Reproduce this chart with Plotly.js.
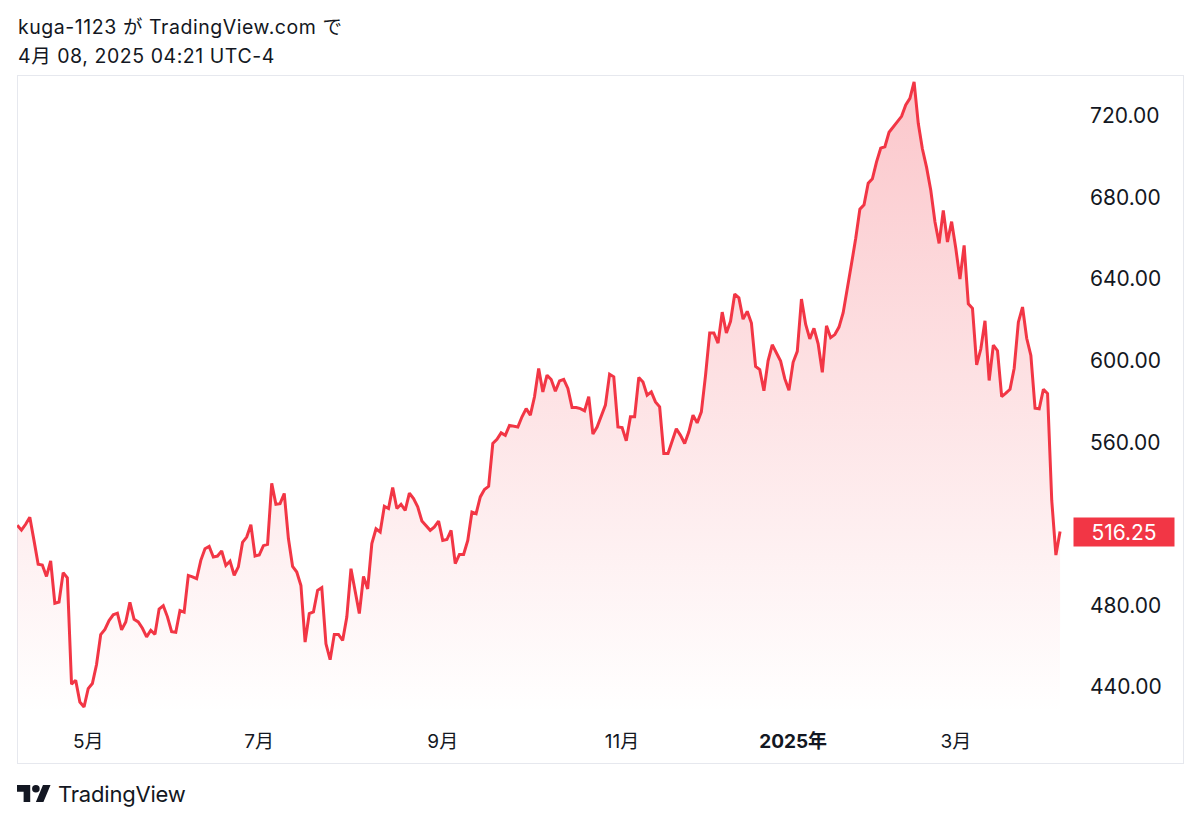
<!DOCTYPE html>
<html>
<head>
<meta charset="utf-8">
<script src="https://cdn.plot.ly/plotly-3.0.1.min.js"></script>
<style>
    body { margin: 0; background: #ffffff; width: 1200px; height: 823px; overflow: hidden; position: relative;
           font-family: Inter, "Noto Sans CJK JP", sans-serif; color: #131722; }
    #header { position: absolute; left: 18px; top: 13px; font-size: 19.5px; line-height: 29px; letter-spacing: 0.55px; }
    #frame { position: absolute; left: 17px; top: 75px; width: 1167px; height: 689px;
             border: 1px solid #e6e8ee; box-sizing: border-box; }
    #chart { position: absolute; left: 17px; top: 75px; width: 1166px; height: 688px; }
    #footer { position: absolute; left: 17px; top: 780px; height: 28px; display: flex; align-items: center; }
    #footer span { font-size: 22px; margin-left: 7px; letter-spacing: -0.2px; }
</style>
</head>
<body>
<div id="header">kuga-1123 が TradingView.com で<br>4月 08, 2025 04:21 UTC-4</div>
<div id="frame"></div>
<div id="chart"></div>
<div id="footer">
    <svg width="34" height="27" viewBox="0 0 36 28"><path fill="#131722" d="M14 22H7V11H0V4h14v18zM28 22h-8l7.5-18h8L28 22z"/><circle fill="#131722" cx="20" cy="8" r="4"/></svg>
    <span>TradingView</span>
</div>
<script>
// Daily closes, one array per month (Apr 2024 - Apr 2025)
const apr2024 = [519.3, 516.9, 519.8, 523.2, 511.9, 500.2, 499.8, 494.2, 501.8, 481.1, 481.7, 496.1, 493.5, 441.4, 443.3, 432.6, 430.2];
const may2024 = [439.2, 441.7, 451.0, 465.7, 468.2, 472.6, 475.4, 476.2, 468.0, 471.9, 481.5, 473.2, 471.9, 468.8, 464.6, 467.8, 465.8, 478.2, 479.9, 474.4, 467.1, 466.8];
const jun2024 = [477.5, 476.7, 494.7, 494.0, 493.1, 502.1, 507.8, 508.9, 503.7, 504.2, 506.7, 499.6, 501.7, 494.8, 498.9, 510.9, 513.5, 519.6, 504.2];
const jul2024 = [504.7, 509.3, 509.9, 539.9, 529.6, 529.9, 534.9, 512.8, 499.1, 496.4, 489.8, 462.0, 476.0, 476.8, 487.4, 488.7, 461.2, 453.4, 465.8, 465.8, 462.8, 474.3];
const aug2024 = [498.0, 487.4, 476.0, 494.2, 488.1, 510.3, 517.6, 516.0, 528.6, 527.5, 537.8, 527.5, 529.6, 526.6, 535.1, 532.4, 528.3, 521.4, 519.3, 516.8, 518.5, 521.4];
const sep2024 = [511.9, 512.3, 516.8, 500.5, 505.0, 505.0, 511.9, 525.8, 525.0, 533.2, 536.8, 538.4, 559.4, 561.4, 564.6, 563.4, 568.3, 567.9, 567.5, 572.5];
const oct2024 = [576.5, 573.3, 582.3, 596.2, 584.7, 592.9, 590.8, 585.0, 590.1, 590.8, 586.4, 577.0, 577.0, 576.5, 575.4, 582.3, 564.0, 567.5, 573.3, 578.2, 593.4, 592.1, 567.5];
const nov2024 = [567.2, 560.7, 572.5, 572.5, 591.8, 589.6, 583.1, 584.7, 579.8, 577.4, 554.5, 554.5, 561.0, 566.6, 563.4, 559.4, 565.1, 573.3, 569.5, 574.9];
const dec2024 = [592.8, 613.6, 613.6, 608.6, 623.8, 613.6, 619.3, 632.7, 630.8, 620.4, 624.2, 618.5, 597.2, 595.6, 585.3, 599.9, 607.8, 603.4, 599.8, 591.2, 585.5];
const jan2025 = [599.2, 604.6, 630.2, 617.9, 610.7, 615.9, 608.3, 594.3, 617.1, 611.3, 612.8, 616.5, 623.5, 636.5, 647.5, 659.9, 674.3, 676.5, 687.0, 689.2];
const feb2025 = [697.5, 704.2, 704.9, 712.0, 714.5, 717.4, 719.8, 725.4, 728.6, 736.7, 716.4, 703.8, 694.8, 683.6, 668.1, 657.5, 673.7, 658.2, 668.2];
const mar2025 = [655.1, 640.0, 656.5, 627.9, 625.7, 598.0, 605.7, 619.6, 590.3, 607.6, 604.9, 582.4, 584.1, 586.0, 596.3, 618.9, 626.3, 611.0, 602.6, 576.7, 576.4];
const apr2025 = [586.0, 583.9, 531.6, 504.7, 516.25];

// x-axis labels, placed at the first bar of these months
const tickMonthIdx = [1, 3, 5, 7, 9, 11];
const tickLabels = ['5月', '7月', '9月', '11月', '<b>2025年</b>', '3月'];

// price scale
const priceTicks = [440, 480, 560, 600, 640, 680, 720];

const months = [apr2024, may2024, jun2024, jul2024, aug2024, sep2024, oct2024,
                nov2024, dec2024, jan2025, feb2025, mar2025, apr2025];
const closes = months.flat();
const bars = closes.map((_, i) => i);

// index of first bar in each month
let monthStart = [];
let acc = 0;
months.forEach(m => { monthStart.push(acc); acc += m.length; });

const last = closes[closes.length - 1];
const red = '#F23645';

const trace = {
    x: bars,
    y: closes,
    type: 'scatter',
    mode: 'lines',
    line: { color: red, width: 3 },
    fill: 'tozeroy',
    fillgradient: {
        type: 'vertical',
        start: 427,
        stop: 737,
        colorscale: [[0, 'rgba(242,54,69,0)'], [1, 'rgba(242,54,69,0.28)']]
    },
    hoverinfo: 'skip'
};

const layout = {
    width: 1166,
    height: 688,
    margin: { l: 0, r: 110, t: 1, b: 50 },
    paper_bgcolor: 'rgba(0,0,0,0)',
    plot_bgcolor: 'rgba(0,0,0,0)',
    showlegend: false,
    font: { family: 'Inter, "Noto Sans CJK JP", sans-serif', color: '#131722' },
    xaxis: {
        range: [-0.07, 253.1],
        showgrid: false,
        zeroline: false,
        showline: false,
        ticks: '',
        tickvals: tickMonthIdx.map(m => monthStart[m]),
        ticktext: tickLabels,
        tickfont: { size: 19, color: '#131722' },
        ticklabelstandoff: 15,
        fixedrange: true
    },
    yaxis: {
        side: 'right',
        range: [427.25, 739.6],
        showgrid: false,
        zeroline: false,
        showline: false,
        ticks: '',
        tickvals: priceTicks,
        ticktext: priceTicks.map(v => v.toFixed(2)),
        tickfont: { size: 21, color: '#131722' },
        ticklabelstandoff: 16,
        fixedrange: true
    },
    annotations: [{
        xref: 'paper', yref: 'y',
        x: 1.0, y: last,
        xanchor: 'left', yanchor: 'middle',
        text: last.toFixed(2),
        showarrow: false,
        font: { size: 21, color: '#ffffff' },
        bgcolor: red,
        width: 96,
        height: 24,
        borderpad: 2,
        align: 'center'
    }]
};

Plotly.newPlot('chart', [trace], layout, { displayModeBar: false, staticPlot: true });
</script>
</body>
</html>
